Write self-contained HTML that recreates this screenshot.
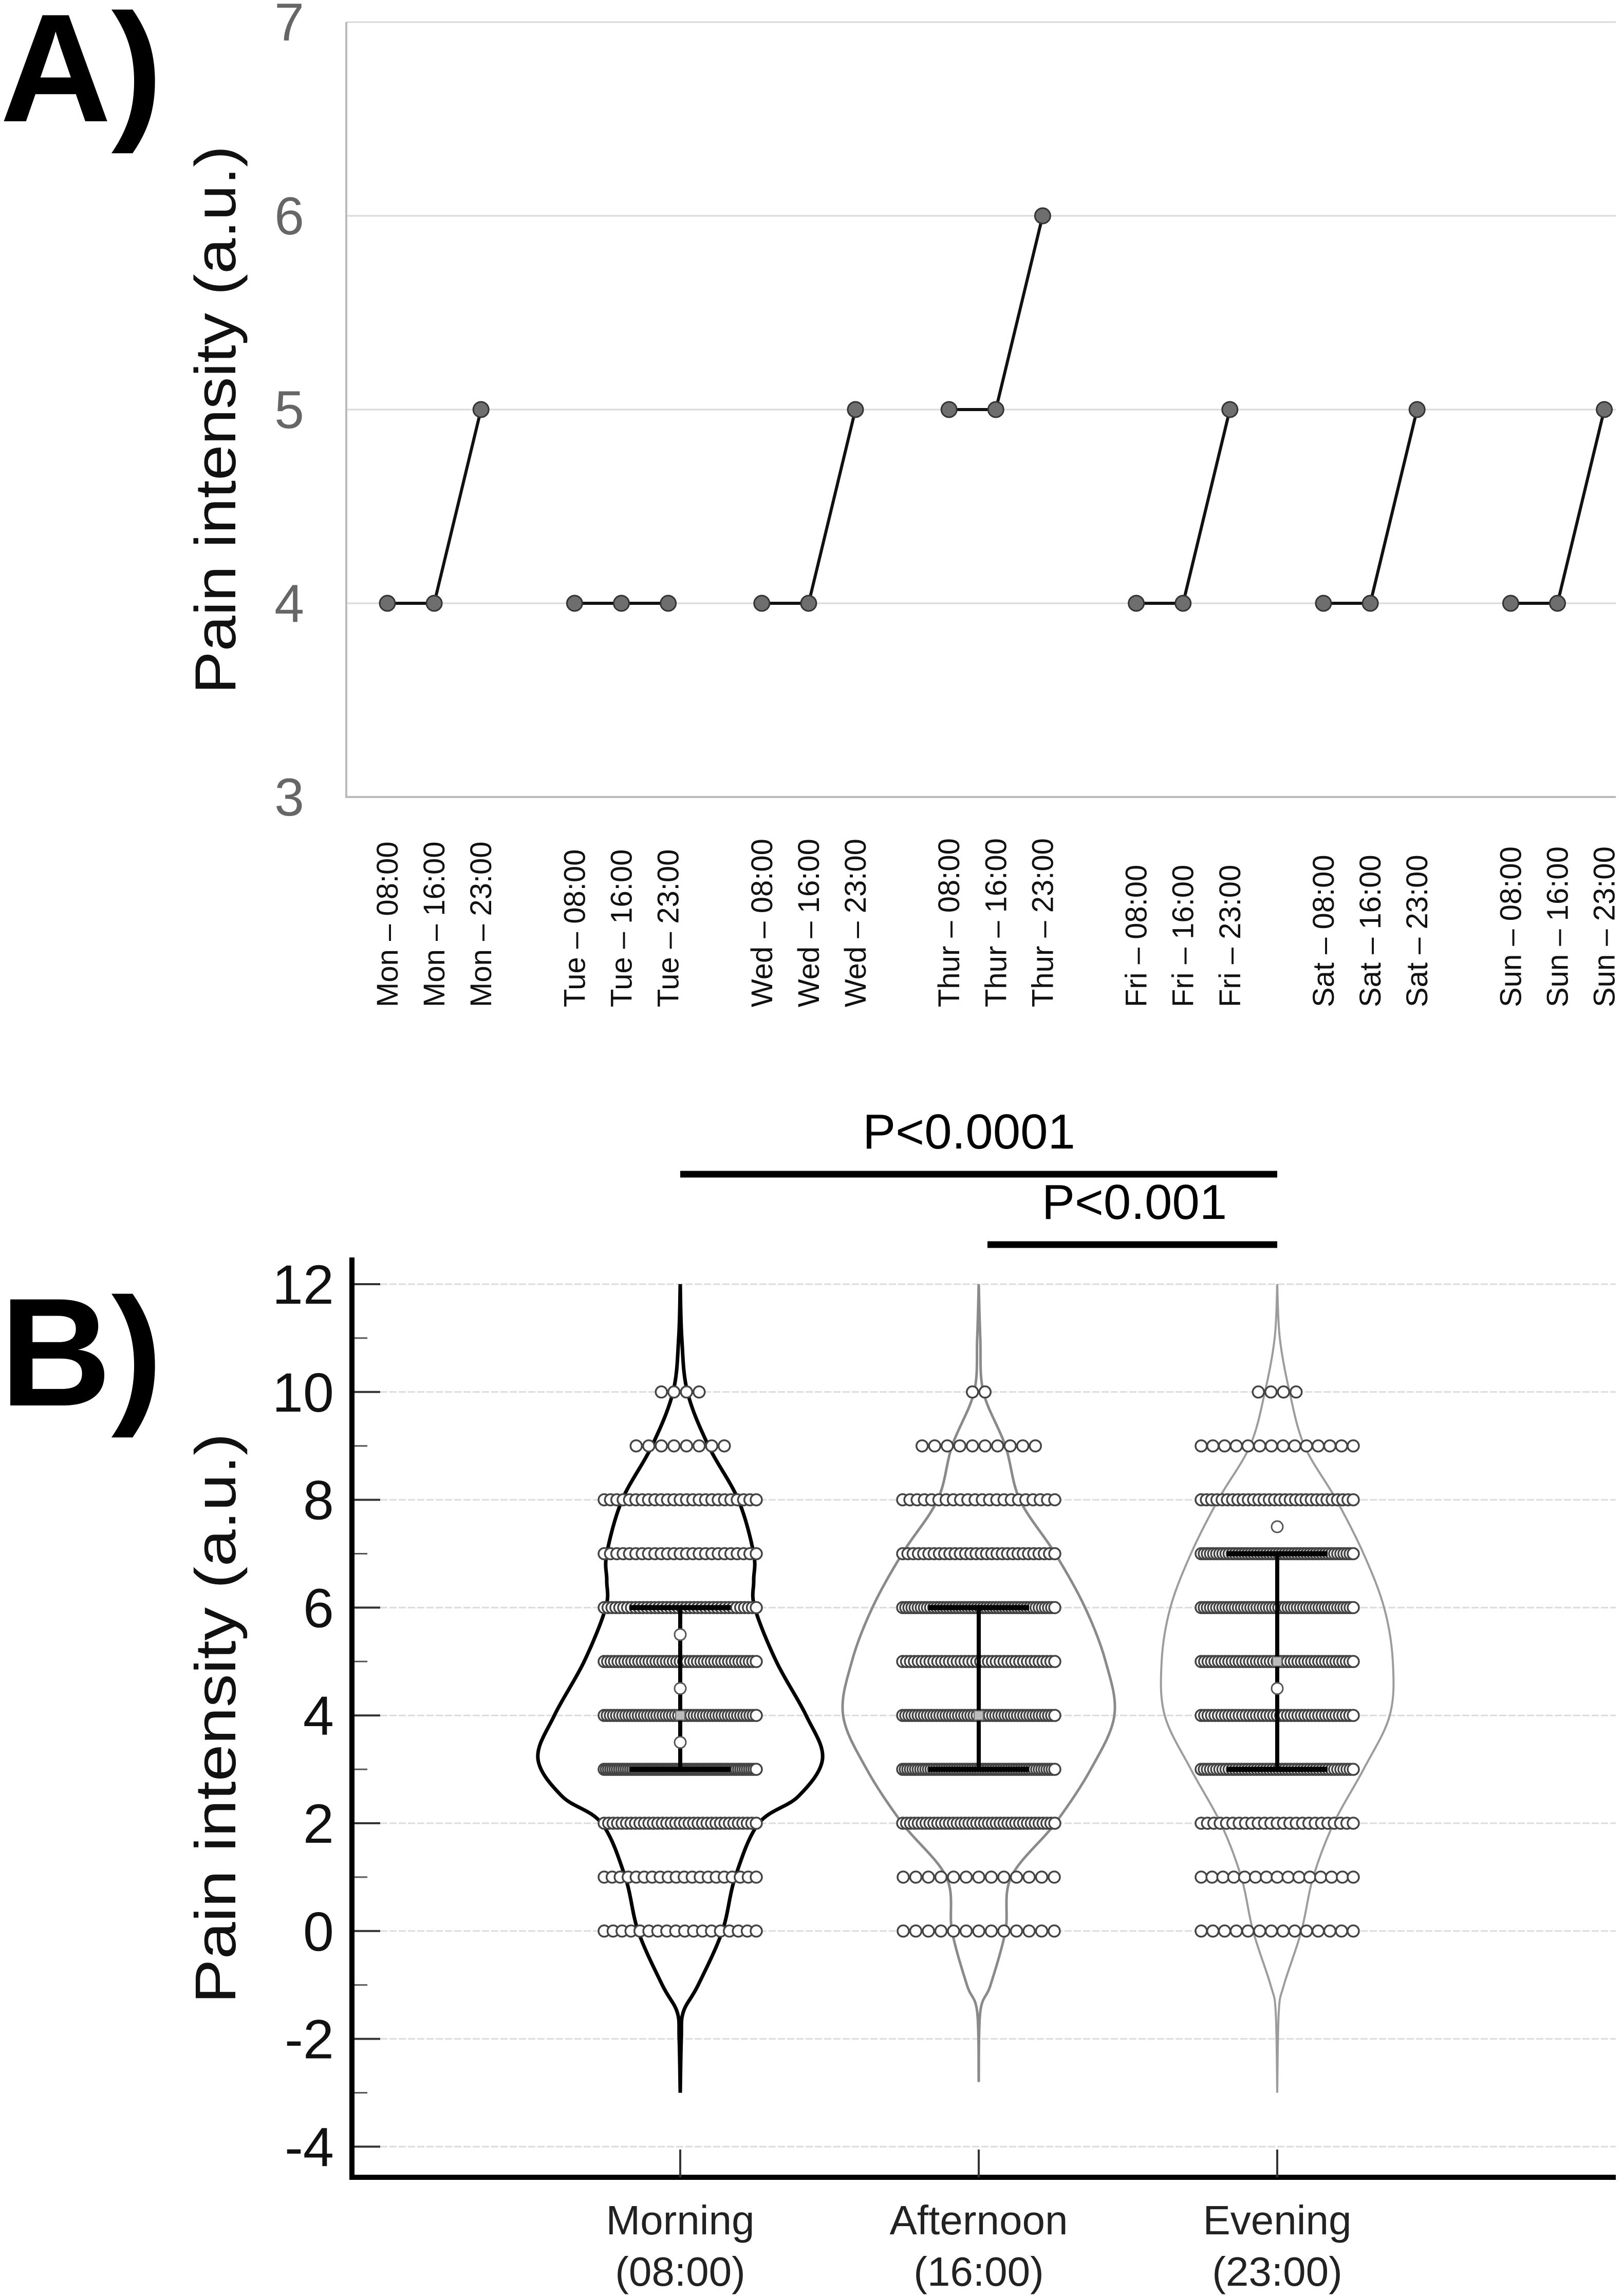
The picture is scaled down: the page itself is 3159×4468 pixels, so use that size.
<!DOCTYPE html>
<html><head><meta charset="utf-8"><style>
html,body{margin:0;padding:0;background:#fff}
svg{display:block}
text{font-family:"Liberation Sans",sans-serif}
</style></head><body>
<svg id="fig" xmlns="http://www.w3.org/2000/svg" width="3159" height="4468" viewBox="0 0 3159 4468">
<rect width="3159" height="4468" fill="#fff"/>
<text x="0" y="236" font-size="300" font-weight="bold" fill="#000">A)</text>
<text x="0" y="2735" font-size="300" font-weight="bold" fill="#000">B)</text>
<g id="pa"></g>
<g id="pb"></g>
</svg>
<script>
// ---------- Panel A data ----------
const aDays = ["Mon","Tue","Wed","Thur","Fri","Sat","Sun"];
const aTimes = ["08:00","16:00","23:00"];
const aValues = [[4,4,5],[4,4,4],[4,4,5],[5,5,6],[4,4,5],[4,4,5],[4,4,5]];
const aTicks = [3,4,5,6,7];
// ---------- Panel B data ----------
const bCategories = ["Morning","Afternoon","Evening"];
const bCatSub = ["(08:00)","(16:00)","(23:00)"];
const bTicks = [12,10,8,6,4,2,0,-2,-4];
const bMinorTicks = [11,9,7,5,3,1,-1,-3];
const bDensityY = [
 [12,11,10,9,8,7,6.5,6,5,4,3.2,2.5,2,1,0,-1,-1.5,-2,-3],
 [12,11,10,9,8,7,6,5,4,3,2,1,0,-1,-1.5,-2.8],
 [12,11,10,9,8,7,6,5,4,3,2,1,0,-1,-1.5,-3]];
const bDensityW = [
 [0,3,14,55,113,143,143,145,187,245,277,230,153,107,82,35,6,2,0],
 [0,3,9,52,80,149,207,247,264,218,149,63,52,23,3,0],
 [0,5,24,53,115,168,208,225,219,168,110,70,47,13,3,0]];
const bRowValues = [0,1,2,3,4,5,6,7,8,9,10];
const bRowCounts = [
 [18,20,35,70,50,45,40,25,25,8,4],
 [13,13,40,60,50,40,50,30,22,10,2],
 [14,15,25,50,45,45,50,50,30,14,4]];
const bQ1 = [3,3,3];
const bQ3 = [6,6,7];
const bMedian = [4,4,5];
const bOutliers = [[5.5,4.5,3.5],[],[7.5,4.5]];
const bSig = [{from:0,to:2,label:"P<0.0001"},{from:1,to:2,label:"P<0.001"}];

const NS="http://www.w3.org/2000/svg";
function mk(parent,tag,attrs,txt){const e=document.createElementNS(NS,tag);for(const k in attrs)e.setAttribute(k,attrs[k]);if(txt!==undefined)e.textContent=txt;parent.appendChild(e);return e;}

// ---------- Panel A ----------
const pa=document.getElementById('pa');
const aL=674,aR=3145,aT=43,aB=1551;
const ay=v=>aB-(v-3)/(7-3)*(aB-aT);
const ax=i=>754+91.1*i;
aTicks.forEach(t=>{
  if(t>3){const g=mk(pa,'line',{x1:aL,x2:aR,y1:ay(t),y2:ay(t),stroke:'#d9d9d9','stroke-width':3});
  }
  const tl=mk(pa,'text',{x:592,y:ay(t)+36,'font-size':104,'text-anchor':'end',fill:'#666'},String(t));
  
});
const axA=mk(pa,'path',{d:`M${aL},${aT} V${aB} H${aR}`,fill:'none',stroke:'#bbb','stroke-width':4});

const ylA=mk(pa,'text',{transform:'translate(458,817) rotate(-90)','font-size':112,'text-anchor':'middle',fill:'#111',textLength:1067,lengthAdjust:'spacingAndGlyphs'},'Pain intensity (a.u.)');

aDays.forEach((d,di)=>{
  const pts=aValues[di].map((v,ti)=>[ax(di*4+ti),ay(v)]);
  const ln=mk(pa,'polyline',{points:pts.map(p=>p.join(',')).join(' '),fill:'none',stroke:'#111','stroke-width':6});
  
  pts.forEach((p,ti)=>{
    const c=mk(pa,'circle',{cx:p[0],cy:p[1],r:15,fill:'#6e6e6e',stroke:'#333','stroke-width':3});
    
    const x=ax(di*4+ti)+20;
    const t=mk(pa,'text',{transform:`translate(${x},1960) rotate(-90)`,'font-size':58,fill:'#111'},d+' \u2013 '+aTimes[ti]);
    
  });
});

// ---------- Panel B ----------
const pb=document.getElementById('pb');
const bL=685,bR=3145,bT=2447,bB=4237;
const by=v=>2499+(12-v)*104.9;
const bx=i=>1324+581*i;
bTicks.forEach(t=>{
  const g=mk(pb,'line',{x1:740,x2:bR,y1:by(t),y2:by(t),stroke:'#dcdcdc','stroke-width':3,'stroke-dasharray':'14 4'});
  
  const tk=mk(pb,'line',{x1:bL,x2:740,y1:by(t),y2:by(t),stroke:'#333','stroke-width':4});
  
  const tl=mk(pb,'text',{x:650,y:by(t)+38,'font-size':108,'text-anchor':'end',fill:'#111'},String(t));
  
});
bMinorTicks.forEach(t=>{
  const tk=mk(pb,'line',{x1:bL,x2:715,y1:by(t),y2:by(t),stroke:'#555','stroke-width':3});
  
});
const axB=mk(pb,'path',{d:`M${bL},${bT} V${bB} H${bR}`,fill:'none',stroke:'#000','stroke-width':10});

const ylB=mk(pb,'text',{transform:'translate(458,3344) rotate(-90)','font-size':112,'text-anchor':'middle',fill:'#111',textLength:1110,lengthAdjust:'spacingAndGlyphs'},'Pain intensity (a.u.)');


function smooth(pts){let d=`M${pts[0][0]},${pts[0][1]}`;
  for(let i=0;i<pts.length-1;i++){const p0=pts[Math.max(0,i-1)],p1=pts[i],p2=pts[i+1],p3=pts[Math.min(pts.length-1,i+2)];
    d+=` C${p1[0]+(p2[0]-p0[0])/6},${p1[1]+(p2[1]-p0[1])/6} ${p2[0]-(p3[0]-p1[0])/6},${p2[1]-(p3[1]-p1[1])/6} ${p2[0]},${p2[1]}`;}
  return d;}
const vCol=['#000','#8a8a8a','#9c9c9c'];
const vW=[7,5,4];
bCategories.forEach((c,ci)=>{
  const cx=bx(ci);
  const tk=mk(pb,'line',{x1:cx,x2:cx,y1:4183,y2:bB,stroke:'#333','stroke-width':4});
  
  const l1=mk(pb,'text',{x:cx,y:4348,'font-size':80,'text-anchor':'middle',fill:'#222'},c);
  
  const l2=mk(pb,'text',{x:cx,y:4448,'font-size':80,'text-anchor':'middle',fill:'#222'},bCatSub[ci]);
  
  const ys=bDensityY[ci],ws=bDensityW[ci];
  const right=ys.map((v,i)=>[cx+ws[i],by(v)]);
  const left=ys.map((v,i)=>[cx-ws[i],by(v)]);
  const vr=mk(pb,'path',{d:smooth(right),fill:'none',stroke:vCol[ci],'stroke-width':vW[ci]});
  
  const vl=mk(pb,'path',{d:smooth(left),fill:'none',stroke:vCol[ci],'stroke-width':vW[ci]});
  
  bRowValues.forEach((v,ri)=>{
    const n=bRowCounts[ci][ri];if(!n)return;
    const sp=n>1?Math.min(24.5,296/(n-1)):0;
    const g=mk(pb,'g',{});
    
    for(let k=0;k<n;k++){
      const d=mk(g,'circle',{cx:cx+(k-(n-1)/2)*sp,cy:by(v),r:11,fill:'#fff',stroke:'#444','stroke-width':3.5});
      
    }
  });
  const eb=mk(pb,'path',{d:`M${cx-98},${by(bQ3[ci])} H${cx+98} M${cx-98},${by(bQ1[ci])} H${cx+98}`,stroke:'#000','stroke-width':10,fill:'none'});
  
  const ev=mk(pb,'line',{x1:cx,x2:cx,y1:by(bQ3[ci]),y2:by(bQ1[ci]),stroke:'#000','stroke-width':8});
  
  const md=mk(pb,'rect',{x:cx-9,y:by(bMedian[ci])-9,width:18,height:18,fill:'#bbb',stroke:'#666','stroke-width':2});
  
  bOutliers[ci].forEach(o=>{
    const oc=mk(pb,'circle',{cx:cx,cy:by(o),r:11,fill:'#fff',stroke:'#555','stroke-width':3});
    
  });
});
const sigY=[2285,2422];
bSig.forEach((s,si)=>{
  const x1=bx(s.from)+(si?17:0),x2=bx(s.to);
  const b=mk(pb,'line',{x1:x1,x2:x2,y1:sigY[si],y2:sigY[si],stroke:'#000','stroke-width':13});
  
  const t=mk(pb,'text',{x:si?2208:1886,y:sigY[si]-50,'font-size':96,'text-anchor':'middle',fill:'#000'},s.label);
  
});
</script>
</body></html>
